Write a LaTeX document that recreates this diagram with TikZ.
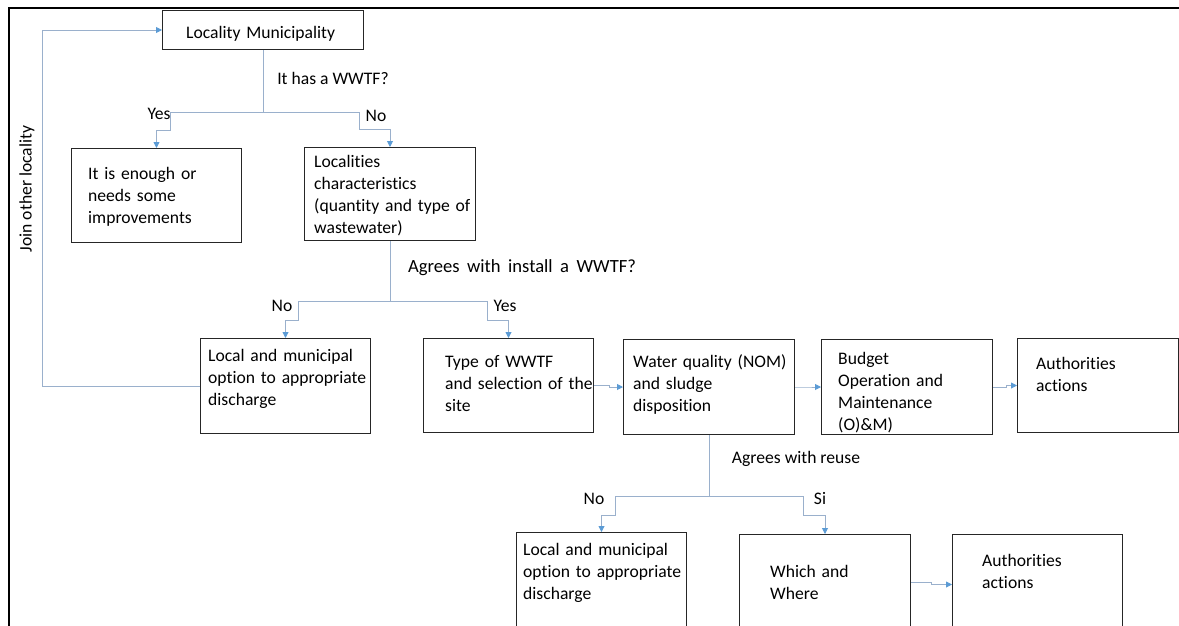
\documentclass[tikz,border=0pt]{standalone}
\usepackage{fontspec}
\setmainfont[Ligatures=NoCommon]{Carlito}
\usepackage{xcolor}
\usetikzlibrary{arrows.meta, positioning}
\definecolor{boxStroke}{HTML}{262626}
\definecolor{lineBlue}{HTML}{9AB0CC}
\definecolor{tipBlue}{HTML}{5B9BD5}

\begin{document}
\begin{tikzpicture}[
		x=1pt, y=-1pt,
		%--- Node Styles ---------------------------------------------------
		box/.style={
			rectangle,
			draw=boxStroke,
			line width=1pt,
			inner sep=0pt,
			anchor=north west
		},
		boxtext/.style={
			inner sep=0pt,
			align=left,
			text height=13pt,
			font=\fontsize{17.6}{22}\selectfont
		},
		lbl/.style={
			inner sep=0pt,
			text height=13pt,
			text depth=4pt,
			font=\fontsize{17.6}{22}\selectfont
		},
		%--- Arrow Styles --------------------------------------------------
		arr/.style={
			-{Triangle[length=6pt,width=6pt,color=tipBlue]},
			line width=0.9pt,
			draw=lineBlue
		}
		]
		
		\clip (0,0) rectangle (1179,625);
		
		%--- Page Frame ----------------------------------------------------
		
		\draw[line width=2pt] (9,8) rectangle (1200,660);
		
		%--- Top: Locality and First Question ------------------------------
		
		\node[box, minimum width=201pt, minimum height=39pt] (loc) at (162,10) {};
		\node[boxtext, text width=175pt, below right=15pt and 24pt of loc.north west] (locT)
		{Locality Municipality};
		
		\node[box, minimum width=170pt, minimum height=94pt] (enough) at (71,148) {};
		\node[boxtext, text width=150pt, below right=18pt and 17pt of enough.north west] (enoughT)
		{It is enough or\\needs some\\improvements};
		
		\node[box, minimum width=171pt, minimum height=93pt] (chars) at (304,147) {};
		\node[boxtext, text width=165pt, below right=7pt and 10pt of chars.north west] (charsT)
		{Localities\\characteristics\\(quantity and type of\\wastewater)};
		
		%--- Middle Row ----------------------------------------------------
		
		\node[box, minimum width=170pt, minimum height=95pt] (local1) at (200,338) {};
		\node[boxtext, text width=165pt, below right=10pt and 8pt of local1.north west] (local1T)
		{Local and municipal\\option to appropriate\\discharge};
		
		\node[box, minimum width=170pt, minimum height=94pt] (type) at (423,338) {};
		\node[boxtext, text width=165pt, below right=16pt and 22pt of type.north west] (typeT)
		{Type of WWTF\\and selection of the\\site};
		
		\node[box, minimum width=171pt, minimum height=95pt] (water) at (623,339) {};
		\node[boxtext, text width=165pt, below right=15pt and 10pt of water.north west] (waterT)
		{Water quality (NOM)\\and sludge\\disposition};
		
		\node[box, minimum width=171pt, minimum height=95pt] (budget) at (821,339) {};
		\node[boxtext, text width=152pt, below right=12pt and 17pt of budget.north west] (budgetT)
		{Budget\\Operation and\\Maintenance\\(O)\&M)};
		
		\node[box, minimum width=161pt, minimum height=94pt] (auth1) at (1017,338) {};
		\node[boxtext, text width=140pt, below right=18pt and 19pt of auth1.north west] (auth1T)
		{Authorities\\actions};
		
		%--- Bottom Row ----------------------------------------------------
		
		\node[box, minimum width=170pt, minimum height=95pt] (local2) at (516,532) {};
		\node[boxtext, text width=165pt, below right=10pt and 7pt of local2.north west] (local2T)
		{Local and municipal\\option to appropriate\\discharge};
		
		\node[box, minimum width=171pt, minimum height=96pt] (which) at (739,534) {};
		\node[boxtext, text width=138pt, below right=30pt and 31pt of which.north west] (whichT)
		{Which and\\Where};
		
		\node[box, minimum width=170pt, minimum height=100pt] (auth2) at (952,534) {};
		\node[boxtext, text width=138pt, below right=19pt and 30pt of auth2.north west] (auth2T)
		{Authorities\\actions};
		
		%--- Branch Connectors ---------------------------------------------
		
		\draw[arr] (loc.south) -- ++(0,62) -| ++(-93,18) -| (enough.north);
		\draw[arr] (loc.south) -- ++(0,62) -| ++(96,17) -| (chars.north);
		
		\draw[arr] (chars.south) -- ++(0,60) -| ++(-92,19) -| (local1.north);
		\draw[arr] (chars.south) -- ++(0,60) -| ++(97,19) -| (type.north);
		
		\draw[arr] (water.south) -- ++(0,61) -| ++(-94,19) -| (local2.north);
		\draw[arr] (water.south) -- ++(0,61) -| ++(94,19) -| (which.north);
		
		%--- Horizontal Flow Arrows ----------------------------------------
		
		\draw[arr] (type.east)   -- ++(15,0) |- (water.west);
		\draw[arr] (water.east)  -- ++(14,0) |- (budget.west);
		\draw[arr] (budget.east) -- ++(13,0) |- (auth1.west);
		\draw[arr] (which.east)  -- ++(20,0) |- (auth2.west);
		
		%--- Feedback Loop -------------------------------------------------
		
		\draw[arr] (local1.west) -- ++(-158,0) |- (loc.west);
		
		%--- Question and Branch Labels ------------------------------------
		
		\node[lbl] (askWWTF)    at (333,80)  {It has a WWTF?};
		\node[lbl] (yesTop)     at (159,115) {Yes};
		\node[lbl] (noTop)      at (376,117) {No};
		\node[lbl, font=\fontsize{18.6}{22}\selectfont] (askInstall) at (522,268)
		{\makebox[228pt][s]{Agrees with install a WWTF?}};
		\node[lbl] (noMid)      at (282,307) {No};
		\node[lbl] (yesMid)     at (505,307) {Yes};
		\node[lbl] (askReuse)   at (796,459) {Agrees with reuse};
		\node[lbl] (noLow)      at (594,500) {No};
		\node[lbl] (siLow)      at (820,500) {Si};
		\node[lbl, rotate=90] (join) at (27,189) {Join other locality};
		
	\end{tikzpicture}
\end{document}
